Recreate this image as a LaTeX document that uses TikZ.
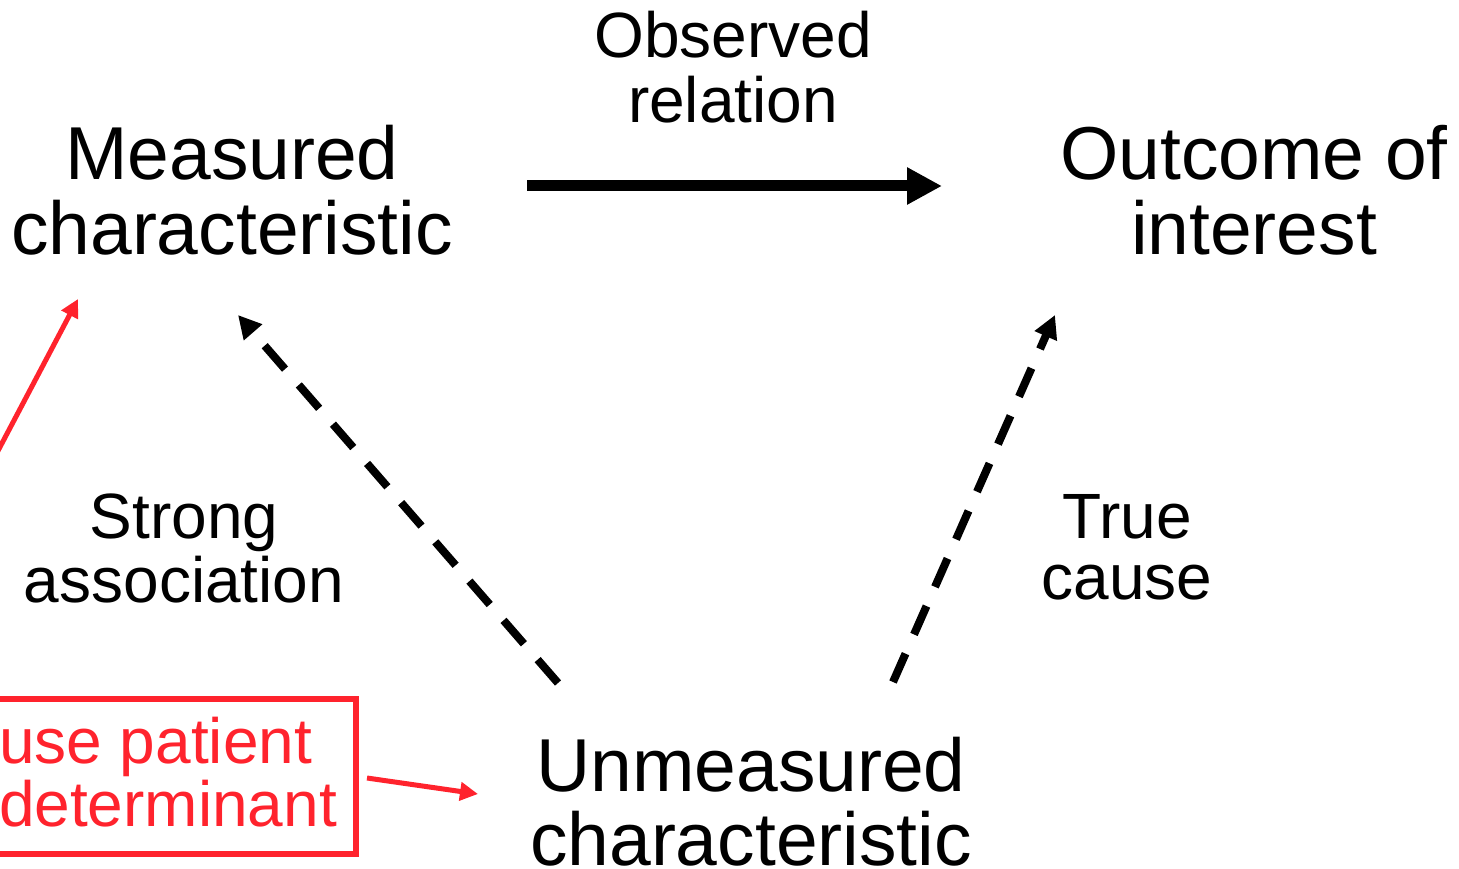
\documentclass[tikz,border=0pt]{standalone}
\usepackage{fontspec}
\setmainfont{Liberation Sans}
\usetikzlibrary{arrows.meta,calc}
\definecolor{alertred}{RGB}{255,35,45}
% two stacked lines; the node's base is the first line's baseline
\newcommand\linepair[2]{\begin{tabular}[t]{@{}c@{}}#1\\#2\end{tabular}}
\newcommand\leftpair[2]{\begin{tabular}[t]{@{}l@{}}#1\\#2\end{tabular}}
\tikzset{
  bigtext/.style={font=\fontsize{75}{67.7}\selectfont, inner sep=0pt, outer sep=0pt, anchor=base},
  smalltext/.style={font=\fontsize{64}{61}\selectfont, inner sep=0pt, outer sep=0pt, anchor=base},
  solidarrow/.style={line width=11pt, -{Triangle[length=35pt,width=35pt]}},
  dasharrow/.style={line width=8pt, dash pattern=on 31pt off 21pt, -{Triangle[length=23pt,width=23pt]}},
  redarrow/.style={draw=alertred, line width=5pt, -{Triangle[length=18pt,width=18pt]}},
  redbox/.style={draw=alertred, line width=6pt, minimum width=396pt, minimum height=155pt, inner sep=0pt, outer sep=0pt},
  redtext/.style={font=\fontsize{64}{57.7}\selectfont, text=alertred, inner sep=0pt, outer sep=0pt, anchor=base west},
}
\begin{document}
\begin{tikzpicture}[x=1pt, y=-1pt]
  \useasboundingbox (0,0) rectangle (1459,869);
  \clip (0,0) rectangle (1459,869);

  % main variables
  \node[bigtext] (meas) at (232,180) {\linepair{Measured}{characteristic}};
  \node[bigtext] (outc) at (1254,180) {\linepair{Outcome of}{interest}};
  \node[bigtext] (unm) at (751,791) {\linepair{Unmeasured}{characteristic}};

  % relation labels
  \node[smalltext] (obs) at (733,58) {\linepair{Observed}{relation}};
  \node[smalltext] (strong) at (184,538) {\linepair{Strong}{association}};
  \node[smalltext] (truec) at (1127,538) {\linepair{True}{cause}};

  % red determinant box
  \node[redbox, anchor=east] (det) at (356,776.5) {};
  \node[redtext] (dettxt) at (-1,763) {\leftpair{use patient}{determinant}};
  \coordinate (redsrc) at (-39,521);

  % connectors
  \draw[solidarrow] ($(meas.base)+(295,6)$) -- ($(outc.base)+(-312,6)$);
  \draw[dasharrow] ($(unm.base)+(-193,-108)$) -- ($(meas.base)+(6,135)$);
  \draw[dasharrow] ($(unm.base)+(142,-109)$) -- ($(outc.base)+(-199,135)$);
  \draw[redarrow] (redsrc) -- ($(meas.base)+(-154,119)$);
  \draw[redarrow] ($(det.east)+(11,1.5)$) -- ($(unm.base)+(-273,3)$);
\end{tikzpicture}
\end{document}
